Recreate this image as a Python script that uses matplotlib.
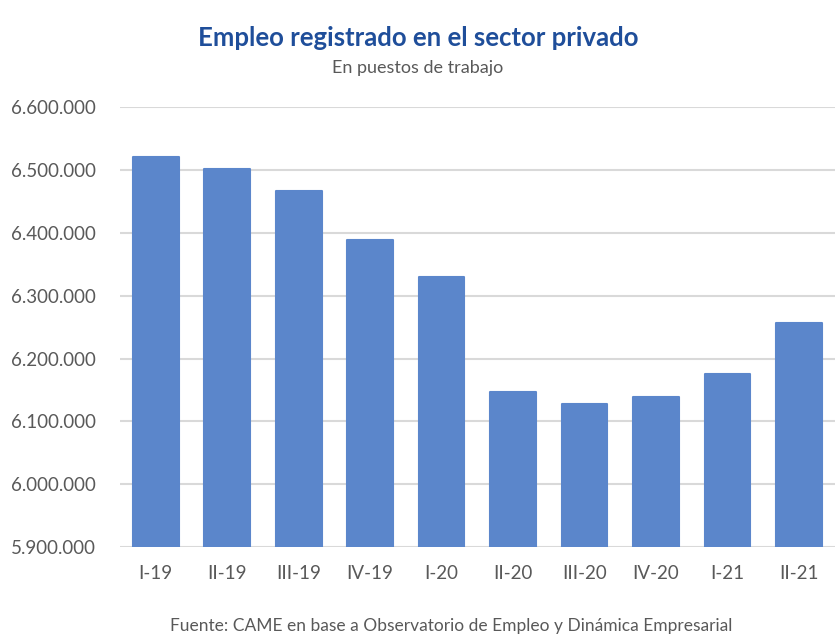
import matplotlib
matplotlib.use("Agg")
import matplotlib.pyplot as plt
from matplotlib.ticker import FuncFormatter

plt.rcParams['font.family'] = ['Lato', 'DejaVu Sans']

# quarters and registered private-sector jobs
quarters = ["I-19", "II-19", "III-19", "IV-19", "I-20",
            "II-20", "III-20", "IV-20", "I-21", "II-21"]
empleo = [6520000, 6502000, 6466000, 6389000, 6330000,
          6146000, 6128000, 6139000, 6176000, 6256000]

bar_color = "#5B86CB"
grid_color = "#D9D9D9"
text_grey = "#595959"

fig = plt.figure(figsize=(8.36, 6.37), dpi=100)
ax = fig.add_axes([0.1435, 0.141, 0.855, 0.691])

x = range(len(quarters))
ax.bar(x, empleo, width=0.64, color=bar_color, edgecolor=bar_color,
       linewidth=1.5, joinstyle="round", zorder=3)

ax.set_ylim(5900000, 6600000)
ax.set_yticks(range(5900000, 6600001, 100000))
ax.yaxis.set_major_formatter(FuncFormatter(lambda v, p: f"{int(v):,}".replace(",", ".")))
ax.set_xlim(-0.5, len(quarters) - 0.5)
ax.set_xticks(list(x))
ax.set_xticklabels(quarters)

ax.grid(axis="y", color=grid_color, linewidth=1.5, zorder=0)
for s in ax.spines.values():
    s.set_visible(False)
ax.tick_params(axis="both", length=0, colors=text_grey, labelsize=13.5)
ax.tick_params(axis="y", pad=17)
ax.tick_params(axis="x", pad=13)

fig.text(0.5, 0.94, "Empleo registrado en el sector privado", ha="center", va="center",
         fontsize=18.5, fontweight="bold", color="#1F4E9A")
fig.text(0.5, 0.893, "En puestos de trabajo", ha="center", va="center",
         fontsize=13, color=text_grey)
fig.text(0.54, 0.017, "Fuente: CAME en base a Observatorio de Empleo y Dinámica Empresarial",
         ha="center", va="center", fontsize=12.5, color=text_grey)

fig.savefig("out.png", dpi=100)
